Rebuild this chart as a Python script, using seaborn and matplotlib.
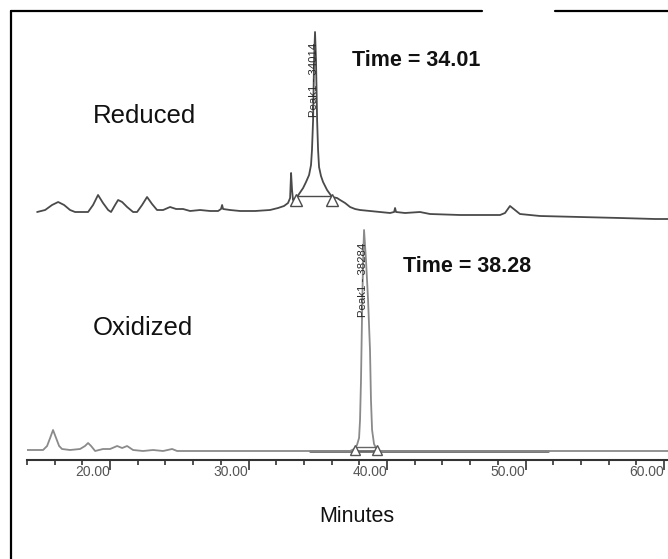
import matplotlib
matplotlib.use("Agg")
import matplotlib.pyplot as plt
from matplotlib.lines import Line2D
from matplotlib.ticker import MultipleLocator
import seaborn as sns
import pandas as pd

# ---------------- data ----------------
# Reduced trace: retention time (minutes) and detector signal (arb. units)
reduced_min = [14.73, 15.31, 15.81, 16.25, 16.68, 17.11, 17.47, 18.41, 18.77, 19.13,
               19.49, 19.86, 20.07, 20.36, 20.58, 20.87, 21.23, 21.66, 21.95, 22.31,
               22.67, 23.03, 23.39, 23.83, 24.33, 24.77, 25.27, 25.78, 26.50, 27.22,
               27.80, 28.01, 28.09, 28.16, 28.66, 29.39, 30.47, 31.55, 32.13, 32.56,
               32.85, 33.00, 33.07, 33.14, 33.21, 33.50, 33.94, 34.15, 34.37, 34.51,
               34.58, 34.66, 34.73, 34.80, 34.87, 34.95, 35.02, 35.09, 35.23, 35.38,
               35.67, 36.03, 36.39, 36.61, 36.97, 37.33, 37.69, 38.05, 38.77, 39.49,
               40.22, 40.51, 40.58, 40.65, 41.30, 42.38, 43.10, 45.27, 48.16, 48.52,
               48.88, 49.24, 49.60, 51.05, 53.93, 56.82, 59.35, 60.29]
reduced_sig = [0, 2, 7, 10, 7, 2, 0, 0, 7, 17,
               9, 2, 0, 7, 12, 10, 5, 0, 0, 7,
               15, 8, 2, 2, 5, 3, 3, 1, 2, 1,
               1, 3, 7, 3, 2, 1, 1, 2, 4, 6,
               9, 14, 39, 22, 12, 15, 24, 30, 37, 47,
               62, 92, 152, 180, 152, 92, 62, 45, 36, 30,
               22, 15, 14, 12, 9, 5, 3, 2, 1, 0,
               -1, 0, 4, 0, -1, 0, -2, -3, -3, -1,
               6, 2, -2, -4, -5, -6, -7, -7]
reduced_marks_min = [33.43, 36.03]
reduced_marks_sig = [12, 12]
reduced_base_sig = [16, 16]

# Oxidized trace
oxidized_min = [14.01, 14.58, 15.16, 15.45, 15.67, 15.88, 16.10, 16.32, 16.53, 17.11,
                17.83, 18.19, 18.41, 18.63, 18.92, 19.49, 20.00, 20.51, 20.87, 21.23,
                21.66, 22.38, 23.10, 23.83, 24.48, 24.84, 26.50, 36.61, 37.33, 37.62,
                37.83, 37.98, 38.05, 38.12, 38.19, 38.27, 38.34, 38.48, 38.63, 38.77,
                38.84, 38.92, 39.06, 39.28, 39.49, 60.29]
oxidized_sig = [1, 1, 1, 5, 13, 21, 13, 5, 2, 1,
                2, 5, 8, 5, 0, 2, 2, 5, 3, 5,
                1, 0, 1, 0, 2, 0, 0, 0, 0, 2,
                6, 13, 31, 71, 131, 191, 221, 191, 151, 101,
                51, 21, 7, 1, 0, 0]
oxidized_marks_min = [37.69, 39.28]
oxidized_marks_sig = [1, 1]
oxidized_base_sig = [4, 4]
oxidized_window_min = [34.44, 51.62]
oxidized_window_sig = [0, 0]

tick_major = [20, 30, 40, 50, 60]
tick_labels = ["20.00", "30.00", "40.00", "50.00", "60.00"]

labels = {"reduced": "Reduced", "oxidized": "Oxidized",
          "t_red": "Time = 34.01", "t_ox": "Time = 38.28",
          "p_red": "Peak1 - 34014", "p_ox": "Peak1 - 38284",
          "xlabel": "Minutes"}

# ---------------- styling ----------------
sns.set_theme(style="white")
plt.rcParams["font.family"] = ["Liberation Sans", "DejaVu Sans"]

W, H = 668, 559
fig = plt.figure(figsize=(W / 100, H / 100), dpi=100)
fig.patch.set_facecolor("white")

def fx(x):
    return x / W

def fy(y):
    return 1 - y / H

ax_top = fig.add_axes([fx(27), fy(225), fx(668) - fx(27), fy(12) - fy(225)])
ax_bot = fig.add_axes([fx(27), fy(460), fx(668) - fx(27), fy(225) - fy(460)])

red_df = pd.DataFrame({"min": reduced_min, "sig": reduced_sig})
ox_df = pd.DataFrame({"min": oxidized_min, "sig": oxidized_sig})

red_col = "#4a4a4a"
ox_col = "#8a8a8a"

sns.lineplot(data=red_df, x="min", y="sig", ax=ax_top, color=red_col,
             linewidth=1.3, sort=False, estimator=None)
sns.lineplot(x=reduced_marks_min, y=reduced_base_sig, ax=ax_top, color=red_col,
             linewidth=1.0, sort=False, estimator=None)
ax_top.plot(reduced_marks_min, reduced_marks_sig, linestyle="none", marker="^",
            markersize=8, markerfacecolor="white", markeredgecolor=red_col,
            markeredgewidth=1.0)

sns.lineplot(x=oxidized_window_min, y=oxidized_window_sig, ax=ax_bot, color="#6a6a6a",
             linewidth=2.0, sort=False, estimator=None)
sns.lineplot(data=ox_df, x="min", y="sig", ax=ax_bot, color=ox_col,
             linewidth=1.3, sort=False, estimator=None)
sns.lineplot(x=oxidized_marks_min, y=oxidized_base_sig, ax=ax_bot, color="#666666",
             linewidth=1.0, sort=False, estimator=None)
ax_bot.plot(oxidized_marks_min, oxidized_marks_sig, linestyle="none", marker="^",
            markersize=6.5, markerfacecolor="white", markeredgecolor="#555555",
            markeredgewidth=1.0)

for ax in (ax_top, ax_bot):
    ax.set_xlim(14.0, 60.29)
    ax.set_facecolor("none")
    ax.set_xlabel("")
    ax.set_ylabel("")
    for s in ax.spines.values():
        s.set_visible(False)
    ax.set_yticks([])

ax_top.set_ylim(-13, 200)
ax_top.set_xticks([])
ax_bot.set_ylim(-9, 226)

ax_bot.spines["bottom"].set_visible(True)
ax_bot.spines["bottom"].set_color("#333333")
ax_bot.spines["bottom"].set_linewidth(1.5)
ax_bot.set_xticks(tick_major)
ax_bot.set_xticklabels(tick_labels)
ax_bot.xaxis.set_minor_locator(MultipleLocator(2))
ax_bot.tick_params(axis="x", which="major", direction="out", length=7.5, width=1.2,
                   color="#333333", pad=-3.8, labelsize=10, labelcolor="#555555",
                   bottom=True)
ax_bot.tick_params(axis="x", which="minor", direction="out", length=3.8, width=1.2,
                   color="#333333", bottom=True)
for lab in ax_bot.get_xticklabels():
    lab.set_horizontalalignment("right")

# ---------------- texts ----------------
fig.text(fx(93), fy(116), labels["reduced"], fontsize=18.5, ha="left", va="center",
         color="#111111")
fig.text(fx(93), fy(328), labels["oxidized"], fontsize=18.5, ha="left", va="center",
         color="#111111")
fig.text(fx(352), fy(60), labels["t_red"], fontsize=15.5, fontweight="bold",
         ha="left", va="center", color="#111111")
fig.text(fx(403), fy(267), labels["t_ox"], fontsize=15.5, fontweight="bold",
         ha="left", va="center", color="#111111")
fig.text(fx(357), fy(516), labels["xlabel"], fontsize=15.5, ha="center", va="center",
         color="#111111")
fig.text(fx(314), fy(80), labels["p_red"], fontsize=8.2, rotation=90,
         ha="center", va="center", color="#2a2a2a")
fig.text(fx(363), fy(280), labels["p_ox"], fontsize=8.2, rotation=90,
         ha="center", va="center", color="#2a2a2a")

# ---------------- frame lines ----------------
frame_kw = dict(transform=fig.transFigure, color="black", linewidth=1.6)
fig.add_artist(Line2D([fx(11), fx(11)], [fy(11), fy(559)], **frame_kw))
fig.add_artist(Line2D([fx(11), fx(482)], [fy(11), fy(11)], **frame_kw))
fig.add_artist(Line2D([fx(555), fx(668)], [fy(11), fy(11)], **frame_kw))

fig.savefig("out.png", dpi=100)
